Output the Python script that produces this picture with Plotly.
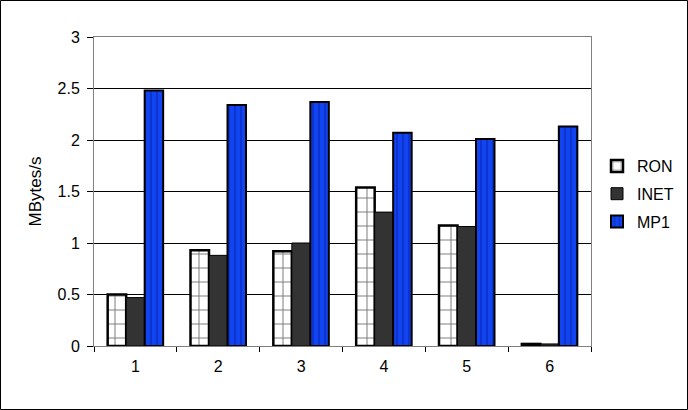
import plotly.graph_objects as go

categories = ["1", "2", "3", "4", "5", "6"]
ron = [0.50, 0.93, 0.92, 1.54, 1.17, 0.02]
inet = [0.47, 0.88, 1.00, 1.30, 1.16, 0.02]
mp1 = [2.48, 2.34, 2.37, 2.07, 2.01, 2.13]
y_ticks = [0, 0.5, 1, 1.5, 2, 2.5, 3]
y_tick_text = ["0", "0.5", "1", "1.5", "2", "2.5", "3"]

FONT = "Liberation Sans, Arial, sans-serif"

fig = go.Figure()
fig.add_trace(go.Bar(
    x=categories, y=ron, name="RON", legendgroup="a",
    marker=dict(color="white",
                pattern=dict(shape="+", fgcolor="black", bgcolor="white", size=14, solidity=0.14),
                line=dict(color="black", width=2.5)),
))
fig.add_trace(go.Bar(
    x=categories, y=inet, name="INET", legendgroup="b",
    marker=dict(color="#333333", line=dict(color="black", width=1)),
))
fig.add_trace(go.Bar(
    x=categories, y=mp1, name="MP1", legendgroup="c",
    marker=dict(color="#0b3be6",
                pattern=dict(shape="|", fgcolor="#0a24b0", bgcolor="#1045f0", size=6, solidity=0.35),
                line=dict(color="black", width=2)),
))

# chart border (outer frame)
def py2paper(py):
    return (346 - py) / 309.0

def px2paper(px):
    return (px - 94) / 497.0

fig.add_shape(type="rect", xref="paper", yref="paper",
              x0=px2paper(0.5), x1=px2paper(687.5), y0=py2paper(409.5), y1=py2paper(0.5),
              line=dict(color="black", width=1), fillcolor="rgba(0,0,0,0)", layer="below")

fig.update_layout(
    width=688, height=410,
    margin=dict(l=94, r=97, t=37, b=64, autoexpand=False),
    paper_bgcolor="white", plot_bgcolor="white",
    barmode="group", bargap=0.33, bargroupgap=0,
    font=dict(family=FONT, size=16, color="black"),
    legend=dict(xref="container", yref="container", x=597 / 688, y=(410 - 149) / 410,
                xanchor="left", yanchor="top",
                traceorder="grouped", tracegroupgap=4,
                font=dict(family=FONT, size=16, color="black"),
                bgcolor="rgba(0,0,0,0)", itemwidth=30),
    showlegend=True,
)
fig.update_xaxes(
    type="category", tickson="boundaries", ticks="outside", ticklen=5,
    tickcolor="black", showline=True, linecolor="#808080", linewidth=1, mirror=True,
    showgrid=False, tickfont=dict(family=FONT, size=16, color="black"),
    ticklabelstandoff=6,
)
fig.update_yaxes(
    range=[0, 3], tickvals=y_ticks, ticktext=y_tick_text,
    ticks="outside", ticklen=6, tickcolor="black",
    showline=True, linecolor="#808080", linewidth=1, mirror=True,
    showgrid=True, gridcolor="black", gridwidth=1, zeroline=False,
    title=dict(text="MBytes/s", font=dict(family=FONT, size=17, color="black"), standoff=11),
    tickfont=dict(family=FONT, size=16, color="black"),
    ticklabelstandoff=4,
)

fig.write_html("out.html", config={"displayModeBar": False},
               post_script="document.body.style.margin='0';document.body.style.overflow='hidden';")
